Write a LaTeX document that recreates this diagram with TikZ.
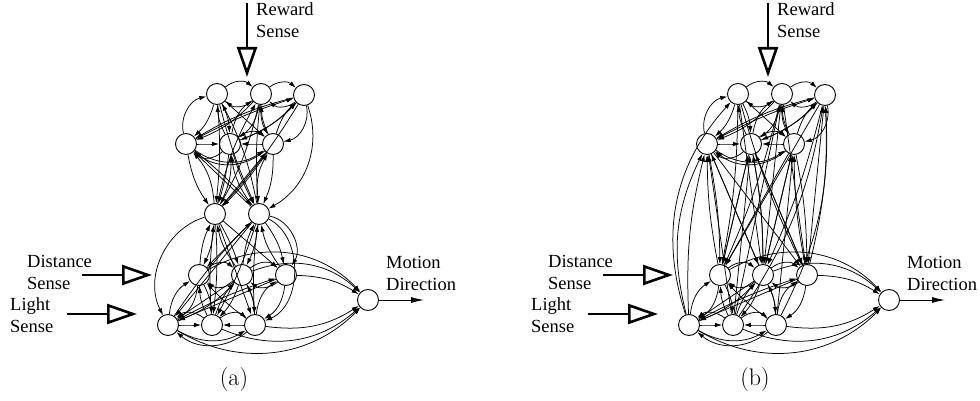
\documentclass[tikz,border=0pt]{standalone}
\usepackage{fontspec}
\newfontfamily\tfont{Liberation Serif}
\usetikzlibrary{arrows.meta}
\tikzset{
  neuron/.style={circle, draw, line width=0.9pt, minimum size=21pt, inner sep=0pt, fill=white},
  e/.style={-{Latex[length=7pt,width=4.5pt]}, line width=0.75pt},
  sense/.style={line width=2.6pt, -{Triangle[open,length=30pt,width=20pt]}},
  outarrow/.style={line width=0.9pt, -{Latex[length=13pt,width=6pt]}},
  lbl/.style={font=\tfont\fontsize{18.5}{22}\selectfont, align=left, inner sep=0pt, anchor=west},
  captext/.style={font=\fontsize{24}{28}\selectfont, inner sep=0pt}
}
\newcommand\netshared[1]{%
  \node[neuron] (#1T1) at (217,307) {};
  \node[neuron] (#1T2) at (261,307) {};
  \node[neuron] (#1T3) at (304,306) {};
  \node[neuron] (#1S1) at (186,257) {};
  \node[neuron] (#1S2) at (230,257) {};
  \node[neuron] (#1S3) at (273,257) {};
  \node[neuron] (#1D1) at (199,126) {};
  \node[neuron] (#1D2) at (242,126) {};
  \node[neuron] (#1D3) at (286,126) {};
  \node[neuron] (#1L1) at (168,76) {};
  \node[neuron] (#1L2) at (212,76) {};
  \node[neuron] (#1L3) at (255,76) {};
  \node[neuron] (#1O) at (368,101) {};
  % top group
  \foreach \s/\t/\b in {T1/T2/40, T2/T1/40, T2/T3/40, T3/T2/40,
      S1/S2/0, S2/S1/45, S2/S3/40, S3/S2/0, S1/S3/-35, S3/S1/40,
      S1/T1/45, T1/S1/15, T3/S3/45, S3/T3/15,
      T1/S2/12, S2/T1/12, T2/S2/22, S2/T2/22, T2/S1/12, S1/T3/5,
      T3/S1/-8, T3/S2/12, S3/T2/12, T2/S3/-15, S2/T3/-12, T1/S3/0}
    \draw[e] (#1\s) to[bend left=\b] (#1\t);
  % bottom group
  \foreach \s/\t/\b in {D1/D2/40, D2/D1/40, D2/D3/40, D3/D2/40,
      L1/L2/0, L2/L1/-40, L2/L3/40, L3/L2/0,
      D1/L1/25, L1/D1/25, D3/L3/25, L3/D3/25, D1/L2/12, L2/D1/12,
      D2/L2/12, L2/D2/12, D2/L3/12, L3/D2/-12, D2/L1/0, L1/D3/5,
      D3/L1/0, L1/D2/-12, L3/D1/5, L1/L3/-30, L3/L1/40,
      D1/O/38, D2/O/32, D3/O/15, L1/O/-38, L2/O/-32, L3/O/-20}
    \draw[e] (#1\s) to[bend left=\b] (#1\t);
  % sense inputs and output
  \coordinate (#1rwA) at (247,398); \coordinate (#1rwB) at (247,324);
  \draw[sense] (#1rwA) -- (#1rwB);
  \coordinate (#1dsA) at (82,126); \coordinate (#1dsB) at (152,126);
  \draw[sense] (#1dsA) -- (#1dsB);
  \coordinate (#1lsA) at (67,87); \coordinate (#1lsB) at (137,87);
  \draw[sense] (#1lsA) -- (#1lsB);
  \coordinate (#1mdB) at (424,101);
  \draw[outarrow] (#1O) -- (#1mdB);
  \node[lbl] (#1rwl) at (256,380.5) {Reward\\Sense};
  \node[lbl] (#1dsl) at (27,128.5) {Distance\\Sense};
  \node[lbl] (#1lsl) at (10,86) {Light\\Sense};
  \node[lbl] (#1mdl) at (386,127.5) {Motion\\Direction};
}
\begin{document}
\begin{tikzpicture}[x=1pt,y=1pt]
\useasboundingbox (0,0) rectangle (980,401);
% panel (a)
\begin{scope}
  \netshared{a}
  \node[neuron] (aM1) at (215,187) {};
  \node[neuron] (aM2) at (259,187) {};
  \foreach \s/\t/\b in {T1/M1/5, T1/M2/-5, T2/M1/8, T2/M2/-5, T3/M1/5, T3/M2/40,
      S1/M1/-12, S1/M2/5, S2/M1/5, S2/M2/-5, S3/M1/5, S3/M2/12,
      M1/S1/-18, M1/T2/8, M2/S3/18, M2/T1/-8, M1/S2/-15, M2/S2/15, M2/S1/0, M1/S3/0,
      M1/D1/10, D1/M1/10, M1/D2/5, D2/M1/12, M1/D3/0, M1/L2/5, L2/M1/5, M1/L3/0,
      M2/D1/0, M2/D2/10, D2/M2/10, M2/D3/12, D3/M2/12, M2/L1/0, L1/M2/5,
      M2/L2/5, L3/M2/5, M1/L1/-50, M2/D3/55, M2/L3/65}
    \draw[e] (a\s) to[bend left=\b] (a\t);
  \node[captext] (cpa) at (234,21) {(a)};
\end{scope}
% panel (b)
\begin{scope}[xshift=521pt]
  \netshared{b}
  \foreach \s/\t/\b in {T1/D1/5, T1/D2/0, T1/D3/-5, T2/D1/5, T2/D2/0, T2/D3/0,
      T3/D1/0, T3/D2/5, T3/D3/0, S1/D1/5, S1/D2/0, S1/D3/0,
      S2/D1/0, S2/D2/5, S2/D3/0, S3/D1/0, S3/D2/0, S3/D3/5,
      D1/S1/5, D2/S1/0, D1/S2/0, D2/S2/-5, D3/S3/5, D3/S2/0,
      L1/S1/8, L2/S1/0, L2/S2/0, L3/S3/0, D2/S3/0, L2/T2/0,
      L1/T1/30, L1/S1/20, L3/T3/-15, D3/T3/-8, L2/T3/-12}
    \draw[e] (b\s) to[bend left=\b] (b\t);
  \node[captext] (cpb) at (234,21) {(b)};
\end{scope}
\end{tikzpicture}
\end{document}
